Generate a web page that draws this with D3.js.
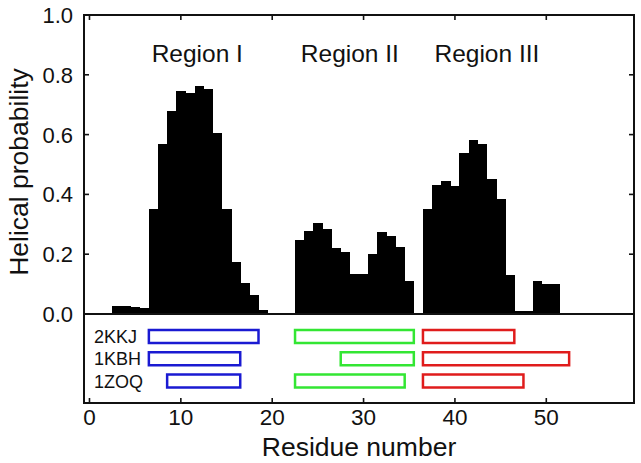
<!DOCTYPE html>
<html>
<head>
<meta charset="utf-8">
<script src="https://cdn.jsdelivr.net/npm/d3@7"></script>
<style>
  html, body { margin: 0; padding: 0; background: #fff; }
  svg { display: block; font-family: "Liberation Sans", Arial, Helvetica, sans-serif; }
</style>
</head>
<body>
<svg id="chart" width="641" height="463"></svg>
<script>
// ---- data ----
const residues = d3.range(1, 52);
const helicalProb = [
  0.000, 0.005, 0.028, 0.027, 0.022, 0.020, 0.352, 0.570, 0.679, 0.745,
  0.740, 0.763, 0.754, 0.604, 0.350, 0.174, 0.103, 0.064, 0.015, 0.000,
  0.000, 0.000, 0.249, 0.279, 0.304, 0.285, 0.221, 0.208, 0.133, 0.133,
  0.202, 0.273, 0.262, 0.224, 0.112, 0.000, 0.352, 0.433, 0.446, 0.428,
  0.540, 0.583, 0.568, 0.451, 0.384, 0.132, 0.009, 0.009, 0.111, 0.101,
  0.101
];
const yTicks = [0.0, 0.2, 0.4, 0.6, 0.8, 1.0];
const xTicks = [0, 10, 20, 30, 40, 50];
const regionNames = ["Region I", "Region II", "Region III"];
const regionCenters = [11.8, 28.5, 43.5];
const structures = ["2KKJ", "1KBH", "1ZOQ"];
const regionColors = ["#1a1ad2", "#33e633", "#e01c1c"];
// helix spans [first residue, last residue] per structure (rows) per region
const regionISpans   = [[7, 18], [7, 16], [9, 16]];
const regionIISpans  = [[23, 35], [28, 35], [23, 34]];
const regionIIISpans = [[37, 46], [37, 52], [37, 47]];

// ---- layout ----
const svg = d3.select("#chart");
const L = 84, R = 634, T = 15, B = 403;
const zeroY = 314;

const x = d3.scaleLinear().domain([-0.6, 59.6]).range([L, R]);
const y = d3.scaleLinear().domain([0, 1]).range([zeroY, T]);
const row = d3.scalePoint().domain(structures).range([336.5, 381]);

// bars
svg.append("g")
  .attr("shape-rendering", "crispEdges")
  .selectAll("rect")
  .data(residues.map((r, i) => ({ r, v: helicalProb[i] })).filter(d => d.v > 0))
  .join("rect")
  .attr("x", d => x(d.r - 0.5))
  .attr("width", d => x(d.r + 0.5) - x(d.r - 0.5) + 0.5)
  .attr("y", d => y(d.v))
  .attr("height", d => y(0) - y(d.v))
  .attr("fill", "#000");

// zero line
svg.append("line")
  .attr("x1", L).attr("x2", R)
  .attr("y1", y(0)).attr("y2", y(0))
  .attr("stroke", "#111").attr("stroke-width", 2);

// helix spans
const allSpans = [regionISpans, regionIISpans, regionIIISpans];
const spanData = [];
allSpans.forEach((spans, ri) => spans.forEach((s, si) => spanData.push({ ri, si, s })));
svg.append("g")
  .selectAll("rect")
  .data(spanData)
  .join("rect")
  .attr("x", d => x(d.s[0] - 0.5))
  .attr("width", d => x(d.s[1] + 0.5) - x(d.s[0] - 0.5))
  .attr("y", d => row(structures[d.si]) - 6.5)
  .attr("height", 13)
  .attr("fill", "none")
  .attr("stroke", d => regionColors[d.ri])
  .attr("stroke-width", 2.5);

// structure labels
svg.append("g")
  .selectAll("text")
  .data(structures)
  .join("text")
  .attr("x", 94)
  .attr("y", d => row(d) + 6.5)
  .attr("font-size", 18)
  .attr("fill", "#111")
  .text(d => d);

// region labels
svg.append("g")
  .selectAll("text")
  .data(regionNames)
  .join("text")
  .attr("x", (d, i) => x(regionCenters[i]))
  .attr("y", 62)
  .attr("text-anchor", "middle")
  .attr("font-size", 24.5)
  .attr("fill", "#111")
  .text(d => d);

// frame
svg.append("rect")
  .attr("x", L).attr("y", T)
  .attr("width", R - L).attr("height", B - T)
  .attr("fill", "none").attr("stroke", "#111").attr("stroke-width", 2);

// ticks (inward)
const tk = 5;
const tg = svg.append("g").attr("stroke", "#111").attr("stroke-width", 1.6);
tg.selectAll(".xb").data(xTicks).join("line")
  .attr("x1", d => x(d)).attr("x2", d => x(d))
  .attr("y1", B).attr("y2", B - tk);
tg.selectAll(".xt").data(xTicks).join("line")
  .attr("x1", d => x(d)).attr("x2", d => x(d))
  .attr("y1", T).attr("y2", T + tk);
tg.selectAll(".yl").data(yTicks).join("line")
  .attr("x1", L).attr("x2", L + tk)
  .attr("y1", d => y(d)).attr("y2", d => y(d));
tg.selectAll(".yr").data(yTicks).join("line")
  .attr("x1", R).attr("x2", R - tk)
  .attr("y1", d => y(d)).attr("y2", d => y(d));

// tick labels
svg.append("g").selectAll("text").data(xTicks).join("text")
  .attr("x", d => x(d)).attr("y", 425)
  .attr("text-anchor", "middle").attr("font-size", 22.5).attr("fill", "#111")
  .text(d => d);
svg.append("g").selectAll("text").data(yTicks).join("text")
  .attr("x", 73).attr("y", d => y(d) + 8)
  .attr("text-anchor", "end").attr("font-size", 22).attr("fill", "#111")
  .text(d => d3.format(".1f")(d));

// axis titles
svg.append("text")
  .attr("x", (L + R) / 2).attr("y", 456)
  .attr("text-anchor", "middle").attr("font-size", 26.5).attr("fill", "#111")
  .text("Residue number");
svg.append("text")
  .attr("transform", "translate(28,172) rotate(-90)")
  .attr("text-anchor", "middle").attr("font-size", 26.5).attr("fill", "#111")
  .text("Helical probability");
</script>
</body>
</html>
